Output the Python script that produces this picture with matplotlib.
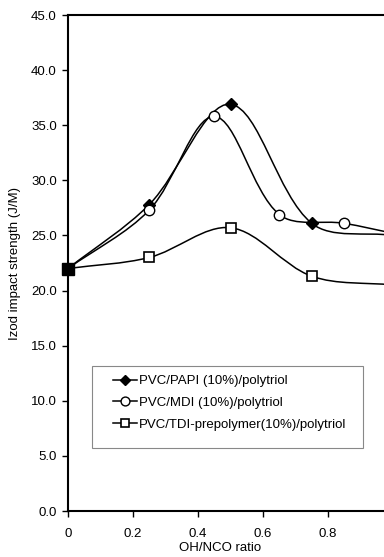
import numpy as np
import matplotlib
matplotlib.use("Agg")
import matplotlib.pyplot as plt
from matplotlib.path import Path
from matplotlib.patches import PathPatch, Rectangle
from matplotlib.lines import Line2D

plt.rcParams['font.family'] = ['Liberation Sans', 'DejaVu Sans']

# data
papi_x = [0.0, 0.25, 0.5, 0.75, 1.0]
papi_y = [22.0, 27.8, 36.9, 26.1, 25.0]
mdi_x = [0.0, 0.25, 0.45, 0.65, 0.85, 1.0]
mdi_y = [22.0, 27.3, 35.8, 26.9, 26.1, 25.2]
tdi_x = [0.0, 0.25, 0.5, 0.75, 1.0]
tdi_y = [22.0, 23.0, 25.7, 21.3, 20.5]
labels = ["PVC/PAPI (10%)/polytriol", "PVC/MDI (10%)/polytriol",
          "PVC/TDI-prepolymer(10%)/polytriol"]
yticks = [0, 5, 10, 15, 20, 25, 30, 35, 40, 45]
xticks = [0, 0.2, 0.4, 0.6, 0.8]
xticklabels = ["0", "0.2", "0.4", "0.6", "0.8"]


def smooth_path(ax, xs, ys):
    """Chord-weighted cubic Bezier smoothing (spreadsheet style), computed
    with screen distances and expressed in data coordinates."""
    pts = np.column_stack([xs, ys]).astype(float)
    scr = ax.transData.transform(pts)
    n = len(pts)
    verts = [pts[0]]
    codes = [Path.MOVETO]

    def d(a, b):
        return np.hypot(*(scr[b] - scr[a]))

    for i in range(n - 1):
        i0 = max(i - 1, 0)
        i3 = min(i + 2, n - 1)
        p1, p2 = pts[i], pts[i + 1]
        d12 = d(i, i + 1)
        d01 = d(i0, i)
        d23 = d(i + 1, i3)
        w1 = d12 / (d01 + d12) / 3.0
        w2 = d12 / (d12 + d23) / 3.0
        c1 = p1 + (pts[i + 1] - pts[i0]) * w1
        c2 = p2 - (pts[i3] - pts[i]) * w2
        verts += [c1, c2, p2]
        codes += [Path.CURVE4] * 3
    return Path(verts, codes)


W, H = 384, 557
fig = plt.figure(figsize=(W / 100, H / 100), dpi=100)
ax_l, ax_r, ax_t, ax_b = 68, 393, 15, 511
ax = fig.add_axes([ax_l / W, (H - ax_b) / H, (ax_r - ax_l) / W, (ax_b - ax_t) / H])
ax.set_xlim(0, 1.0)
ax.set_ylim(0, 45)


def axx(px):
    return (px - ax_l) / (ax_r - ax_l)


def axy(py):
    return (ax_b - py) / (ax_b - ax_t)


FS = 9.5
series = [
    (papi_x, papi_y, dict(marker='D', mfc='black', mec='black', ms=6.0)),
    (mdi_x, mdi_y, dict(marker='o', mfc='white', mec='black', ms=7.5, mew=1.0)),
    (tdi_x, tdi_y, dict(marker='s', mfc='white', mec='black', ms=7.0, mew=1.2)),
]
handles = []
for (xs, ys, mk), lab in zip(series, labels):
    patch = PathPatch(smooth_path(ax, xs, ys), facecolor='none', edgecolor='black',
                      lw=1.1, transform=ax.transData, zorder=2)
    ax.add_patch(patch)
    ax.plot(xs, ys, linestyle='none', zorder=3, clip_on=False, **mk)
    handles.append(Line2D([], [], color='black', lw=1.1, **mk))

# first common point drawn as filled square
ax.plot([tdi_x[0]], [tdi_y[0]], marker='s', ms=8, mfc='black', mec='black',
        linestyle='none', zorder=4, clip_on=False)

ax.set_yticks(yticks)
ax.set_yticklabels([f"{v:.1f}" for v in yticks])
ax.set_xticks(xticks)
ax.set_xticklabels(xticklabels)
ax.tick_params(axis='both', labelsize=FS, direction='out', length=4, width=1.0, pad=4)
ax.tick_params(axis='x', pad=8)
for s in ['left', 'bottom', 'top']:
    ax.spines[s].set_linewidth(1.5)
ax.spines['right'].set_visible(False)

ax.set_ylabel("Izod impact strength (J/M)", fontsize=FS)
ax.yaxis.set_label_coords(axx(21), 0.5)
ax.set_xlabel("OH/NCO ratio", fontsize=FS)
ax.xaxis.set_label_coords(axx(220), axy(548))
ax.xaxis.label.set_va('center')

# legend frame
ax.add_patch(Rectangle((axx(92), axy(448)), axx(363) - axx(92), axy(366) - axy(448),
                       transform=ax.transAxes, facecolor='white', edgecolor='#888888',
                       lw=0.8, zorder=4))
leg = ax.legend(handles, labels, loc='upper left',
                bbox_to_anchor=(axx(113), axy(375)),
                fontsize=FS, frameon=False,
                handlelength=1.8, handletextpad=0.15, labelspacing=0.72,
                borderpad=0.0, borderaxespad=0.0, markerscale=0.85)
leg.set_zorder(5)

fig.savefig("out.png", dpi=100)
